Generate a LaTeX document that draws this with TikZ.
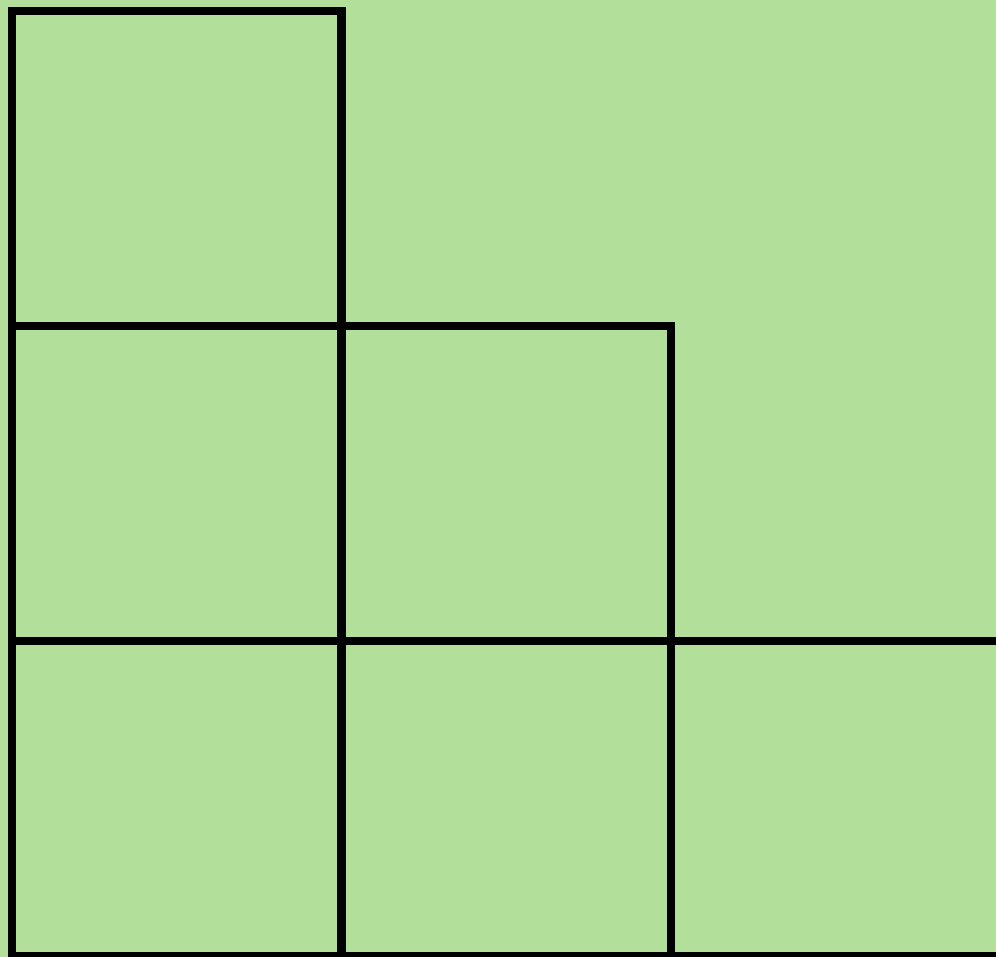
\documentclass[tikz,border=0pt]{standalone}
\usepackage{tikz}
\definecolor{feltgreen}{RGB}{178,224,154}

\begin{document}
\begin{tikzpicture}[
  x=0.01cm, y=-0.01cm,
  cell/.style={draw=black, line width=0.08cm, line join=miter}
]
\clip (0,0) rectangle (996,957);
\fill[feltgreen] (0,0) rectangle (996,957);

% staircase of cells: row r holds r+1 cells
\foreach \row/\cols in {0/1, 1/2, 2/3}
  \foreach \col in {1,...,\cols}
    \draw[cell] ({12+329.5*(\col-1)},{11+315*\row}) rectangle +(329.5,315);
\end{tikzpicture}
\end{document}
